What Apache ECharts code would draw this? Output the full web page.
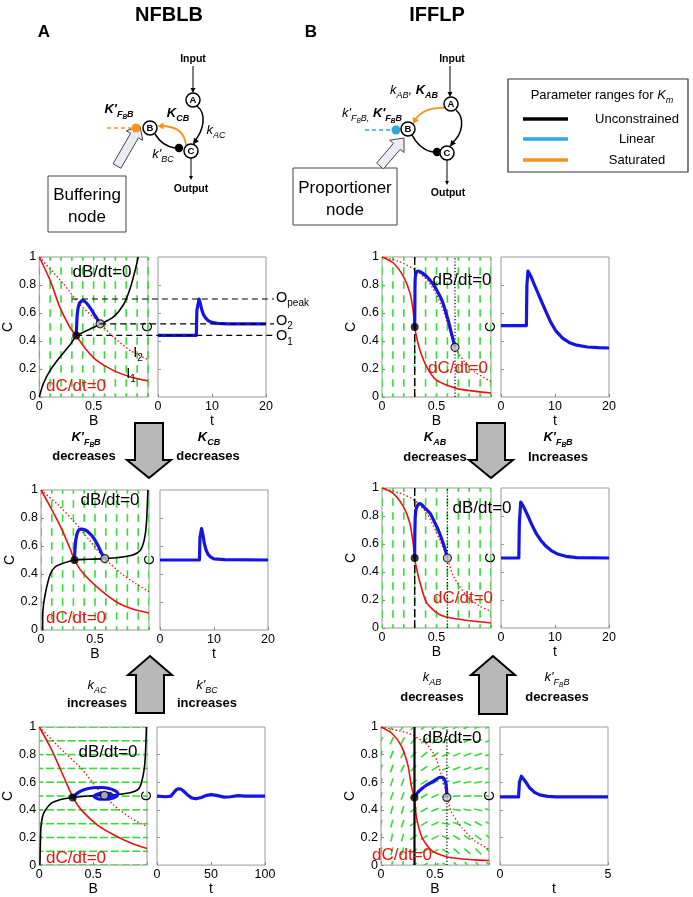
<!DOCTYPE html>
<html><head><meta charset="utf-8">
<script src="https://cdn.jsdelivr.net/npm/echarts@6/dist/echarts.min.js"></script>
<style>html,body{margin:0;padding:0;background:#fff;}#c{width:693px;height:897px;}</style>
</head><body><div id="c"></div>
<script>
const FONT = '"Liberation Sans", Arial, Helvetica, sans-serif';

// ---------- vector-field sampling grid ----------
const fieldB = [0,0.1,0.2,0.3,0.4,0.5,0.6,0.7,0.8,0.9,1];
const fieldC = [0,0.1,0.2,0.3,0.4,0.5,0.6,0.7,0.8,0.9,1];
const verticalAngle = 90;
const horizontalAngle = 0;
// B3 field direction (degrees), rows C = 1 ... 0, cols B = 0 ... 1
const b3FieldAngles = [
  [70,65,60,50,40,35,30,28,25,22,20],
  [70,65,60,48,40,35,30,25,22,20,18],
  [72,68,62,45,38,32,28,22,20,18,15],
  [72,70,65,45,35,30,25,20,18,15,12],
  [75,72,68,40,32,28,22,15,12,10,8],
  [75,72,70,40,30,25,15,5,3,0,0],
  [78,75,72,35,28,22,5,-8,-10,-12,-15],
  [78,75,72,35,30,25,-10,-20,-25,-28,-30],
  [80,78,75,35,30,28,-20,-30,-35,-38,-40],
  [80,78,75,35,30,28,-30,-40,-42,-45,-45],
  [82,80,78,35,30,25,-35,-45,-48,-50,-50]
];

// ---------- tick labels ----------
const phaseBTicks = [0,0.5];
const phaseCTicks = [0,0.2,0.4,0.6,0.8,1];
const timeTicks20 = [0,10,20];
const timeTicks100 = [0,50,100];
const timeTicks5 = [0,5];

// ---------- A1 : NFBLB, top ----------
const a1NullC1 = [[0,1],[0.1,0.833],[0.19,0.64],[0.28,0.5],[0.345,0.43],[0.44,0.33],[0.53,0.26],[0.68,0.19],[0.84,0.143],[1,0.115]];
const a1NullC2 = [[0,1],[0.22,0.81],[0.375,0.66],[0.56,0.523],[0.68,0.43],[0.84,0.33],[1,0.267]];
const a1NullB = [[0,0],[0.037,0.095],[0.1,0.19],[0.19,0.286],[0.28,0.37],[0.34,0.433],[0.44,0.476],[0.56,0.52],[0.68,0.57],[0.78,0.667],[0.84,0.786],[0.89,0.93],[0.91,1]];
const a1Traj = [[0.34,0.44],[0.343,0.5],[0.35,0.595],[0.36,0.645],[0.375,0.675],[0.40,0.69],[0.43,0.675],[0.47,0.635],[0.51,0.585],[0.54,0.548],[0.56,0.523]];
const a1Stable = [0.34,0.44];
const a1New = [0.56,0.523];
const a1Time = [[0,0.44],[7.1,0.44],[7.2,0.62],[7.6,0.70],[7.85,0.665],[8.1,0.625],[8.4,0.59],[8.8,0.565],[9.3,0.545],[10,0.533],[11,0.526],[13,0.523],[20,0.523]];
const a1OLevels = [0.70,0.523,0.44];      // O_peak, O_2, O_1
const a1OStartB = [0.30,0.56,0.34];

// ---------- A2 ----------
const a2NullC1 = [[0,1],[0.086,0.88],[0.18,0.74],[0.27,0.58],[0.31,0.5],[0.39,0.405],[0.55,0.286],[0.70,0.20],[0.855,0.148],[1,0.122]];
const a2NullC2 = [[0,1],[0.15,0.9],[0.3,0.78],[0.45,0.64],[0.59,0.51],[0.75,0.40],[0.88,0.33],[1,0.274]];
const a2NullB = [[0.015,0],[0.018,0.14],[0.04,0.26],[0.086,0.4],[0.13,0.45],[0.18,0.47],[0.31,0.5],[0.45,0.505],[0.59,0.51],[0.72,0.518],[0.85,0.535],[0.92,0.57],[0.955,0.64],[0.975,0.75],[0.99,1]];
const a2Traj = [[0.31,0.5],[0.315,0.58],[0.326,0.66],[0.345,0.71],[0.37,0.72],[0.41,0.714],[0.45,0.69],[0.49,0.655],[0.53,0.6],[0.56,0.55],[0.59,0.51]];
const a2Stable = [0.31,0.5];
const a2New = [0.59,0.51];
const a2Time = [[0,0.5],[7.3,0.5],[7.4,0.66],[7.7,0.725],[7.95,0.68],[8.2,0.62],[8.5,0.575],[8.9,0.54],[9.4,0.52],[10,0.508],[12,0.502],[20,0.5]];

// ---------- A3 ----------
const a3NullC1 = [[0,1],[0.113,0.838],[0.235,0.625],[0.31,0.494],[0.39,0.40],[0.54,0.29],[0.69,0.22],[0.85,0.16],[1,0.12]];
const a3NullC2 = [[0,1],[0.235,0.815],[0.39,0.70],[0.54,0.553],[0.605,0.505],[0.69,0.435],[0.85,0.34],[1,0.28]];
const a3NullB = [[0.006,0],[0.01,0.15],[0.015,0.27],[0.03,0.35],[0.05,0.39],[0.11,0.447],[0.2,0.475],[0.31,0.49],[0.45,0.5],[0.605,0.505],[0.75,0.513],[0.85,0.525],[0.92,0.55],[0.95,0.6],[0.975,0.7],[0.985,0.8],[0.995,1]];
const a3Traj = [[0.31,0.49],[0.36,0.525],[0.42,0.548],[0.5,0.56],[0.58,0.562],[0.65,0.555],[0.70,0.54],[0.73,0.52],[0.72,0.50],[0.68,0.485],[0.62,0.478],[0.56,0.478],[0.52,0.488],[0.51,0.5],[0.53,0.512],[0.58,0.52],[0.64,0.52],[0.67,0.512],[0.67,0.5],[0.64,0.493],[0.61,0.495],[0.605,0.505]];
const a3Stable = [0.31,0.49];
const a3New = [0.605,0.505];
const a3Time = [[0,0.5],[8,0.495],[13,0.5],[16,0.53],[18,0.547],[20,0.553],[22,0.55],[24,0.54],[28,0.51],[32,0.487],[36,0.48],[41,0.49],[46,0.505],[50,0.51],[55,0.505],[62,0.492],[68,0.495],[75,0.503],[82,0.5],[100,0.5]];

// ---------- B1 : IFFLP, top ----------
const b1NullC1 = [[0,1],[0.104,0.957],[0.196,0.861],[0.258,0.74],[0.285,0.62],[0.30,0.5],[0.32,0.42],[0.35,0.33],[0.41,0.215],[0.5,0.12],[0.69,0.06],[1,0.029]];
const b1NullC2 = [[0,1],[0.15,0.97],[0.3,0.91],[0.42,0.83],[0.5,0.73],[0.57,0.6],[0.62,0.48],[0.67,0.355],[0.75,0.26],[0.85,0.18],[1,0.11]];
const b1NullB = [0.30,0.67];   // B nullcline for input 1, input 2
const b1Traj = [[0.30,0.5],[0.302,0.7],[0.305,0.85],[0.315,0.89],[0.334,0.9],[0.37,0.885],[0.41,0.86],[0.46,0.815],[0.5,0.766],[0.55,0.69],[0.58,0.62],[0.61,0.54],[0.63,0.478],[0.67,0.355]];
const b1Stable = [0.30,0.5];
const b1New = [0.67,0.355];
const b1Time = [[0,0.51],[4.7,0.51],[4.8,0.8],[5.0,0.9],[5.5,0.865],[6.2,0.8],[7.2,0.71],[8.2,0.62],[9.2,0.535],[10.2,0.47],[11.4,0.42],[12.6,0.39],[14,0.37],[16,0.357],[18,0.352],[20,0.35]];

// ---------- B2 ----------
const b2NullC1 = [[0,1],[0.1,0.964],[0.194,0.87],[0.255,0.75],[0.29,0.58],[0.30,0.5],[0.31,0.45],[0.35,0.32],[0.41,0.18],[0.53,0.095],[0.69,0.064],[1,0.036]];
const b2NullC2 = [[0,1],[0.16,0.964],[0.29,0.917],[0.41,0.82],[0.53,0.63],[0.6,0.5],[0.655,0.37],[0.78,0.226],[0.9,0.155],[1,0.12]];
const b2NullB = [0.30,0.60];
const b2Traj = [[0.30,0.5],[0.302,0.7],[0.31,0.84],[0.33,0.88],[0.348,0.888],[0.39,0.86],[0.44,0.82],[0.48,0.76],[0.517,0.70],[0.55,0.63],[0.58,0.56],[0.6,0.5]];
const b2Stable = [0.30,0.5];
const b2New = [0.60,0.5];
const b2Time = [[0,0.5],[3.3,0.5],[3.4,0.75],[3.65,0.9],[4.2,0.865],[5.0,0.8],[5.8,0.73],[6.6,0.67],[7.4,0.625],[8.3,0.585],[9.3,0.553],[10.5,0.528],[12,0.512],[14,0.503],[20,0.5]];

// ---------- B3 ----------
const b3NullC1 = [[0,1],[0.1,0.955],[0.19,0.86],[0.25,0.72],[0.28,0.577],[0.31,0.48],[0.33,0.34],[0.38,0.2],[0.47,0.104],[0.62,0.057],[0.87,0.038],[1,0.033]];
const b3NullC2 = [[0,1],[0.25,0.955],[0.41,0.884],[0.5,0.79],[0.56,0.648],[0.61,0.506],[0.65,0.388],[0.75,0.27],[0.87,0.175],[1,0.116]];
const b3NullB = [0.31,0.61];
const b3Traj = [[0.31,0.49],[0.34,0.525],[0.377,0.553],[0.42,0.578],[0.47,0.6],[0.51,0.62],[0.546,0.636],[0.565,0.635],[0.585,0.625],[0.6,0.595],[0.607,0.55],[0.61,0.49]];
const b3Stable = [0.31,0.49];
const b3New = [0.61,0.49];
const b3Time = [[0,0.494],[0.86,0.494],[0.9,0.6],[0.99,0.644],[1.08,0.635],[1.2,0.6],[1.37,0.56],[1.6,0.527],[1.84,0.508],[2.2,0.498],[2.6,0.494],[5,0.494]];

// ---------- build fields ----------
function uniformField(ang){ const d=[]; fieldC.forEach(c=>fieldB.forEach(b=>d.push([b,c,ang]))); return d; }
function tableField(tab){ const d=[]; tab.forEach((row,i)=>{ const c=fieldC[fieldC.length-1-i]; row.forEach((a,j)=>d.push([fieldB[j],c,a])); }); return d; }

const panels = [
  {phase:[39,257,109,140], time:[158,257,108,140], c1:a1NullC1, c2:a1NullC2, nb:a1NullB, traj:a1Traj, st:a1Stable, nw:a1New, tm:a1Time, tmax:20, tt:timeTicks20, field:uniformField(verticalAngle), flen:7.5},
  {phase:[382,257,109,140], time:[501,257,108,140], c1:b1NullC1, c2:b1NullC2, vb:b1NullB, vbSolid:false, traj:b1Traj, st:b1Stable, nw:b1New, tm:b1Time, tmax:20, tt:timeTicks20, field:uniformField(verticalAngle), flen:7.5},
  {phase:[41,490,108,140], time:[160,490,108,140], c1:a2NullC1, c2:a2NullC2, nb:a2NullB, traj:a2Traj, st:a2Stable, nw:a2New, tm:a2Time, tmax:20, tt:timeTicks20, field:uniformField(verticalAngle), flen:7.5},
  {phase:[382,488,109,140], time:[501,488,108,140], c1:b2NullC1, c2:b2NullC2, vb:b2NullB, vbSolid:false, traj:b2Traj, st:b2Stable, nw:b2New, tm:b2Time, tmax:20, tt:timeTicks20, field:uniformField(verticalAngle), flen:7.5},
  {phase:[38,727,109,141], time:[157,727,108,141], c1:a3NullC1, c2:a3NullC2, nb:a3NullB, traj:a3Traj, st:a3Stable, nw:a3New, tm:a3Time, tmax:100, tt:timeTicks100, field:uniformField(horizontalAngle), flen:8},
  {phase:[381,727,108,141], time:[500,727,108,141], c1:b3NullC1, c2:b3NullC2, vb:b3NullB, vbSolid:true, traj:b3Traj, st:b3Stable, nw:b3New, tm:b3Time, tmax:5, tt:timeTicks5, field:tableField(b3FieldAngles), flen:8}
];

const BLUE = '#1414e6', RED = '#ee1111', GREEN = '#33dd33';
const txtStyle = {fontSize:12.5, color:'#000', fontFamily:FONT};

function fieldRender(len){
  return function(params, api){
    const p = api.coord([api.value(0), api.value(1)]);
    const a = api.value(2)*Math.PI/180;
    const dx = Math.cos(a)*len/2, dy = -Math.sin(a)*len/2;
    return {type:'line', shape:{x1:p[0]-dx,y1:p[1]-dy,x2:p[0]+dx,y2:p[1]+dy}, style:{stroke:GREEN, lineWidth:1.6}};
  };
}
function lineS(idx, data, ls, z, smooth){
  return {type:'line', xAxisIndex:idx, yAxisIndex:idx, data, showSymbol:false, symbol:'none', smooth:smooth===undefined?0.3:smooth,
    lineStyle:ls, z, silent:true, clip:true};
}

const grids=[], xAxes=[], yAxes=[], series=[];
panels.forEach((p,k)=>{
  const gp = 2*k, gt = 2*k+1;
  [p.phase, p.time].forEach(r=>grids.push({left:r[0], top:r[1], width:r[2], height:r[3], show:true, borderColor:'#999', borderWidth:1, backgroundColor:'rgba(0,0,0,0)'}));
  xAxes.push({gridIndex:gp, type:'value', min:0, max:1, name:'B', nameLocation:'middle', nameGap:14, nameTextStyle:{fontSize:14,color:'#000',fontFamily:FONT},
    axisLine:{show:false}, splitLine:{show:false}, axisTick:{show:true, inside:true, length:3, lineStyle:{color:'#888'}, customValues:[0,0.5,1]},
    axisLabel:Object.assign({customValues:phaseBTicks, margin:3}, txtStyle)});
  yAxes.push({gridIndex:gp, type:'value', min:0, max:1, name:'C', nameLocation:'middle', nameGap:21, nameRotate:90, nameTextStyle:{fontSize:14,color:'#000',fontFamily:FONT},
    axisLine:{show:false}, splitLine:{show:false}, axisTick:{show:true, inside:true, length:3, lineStyle:{color:'#888'}, customValues:phaseCTicks},
    axisLabel:Object.assign({customValues:phaseCTicks, margin:3}, txtStyle)});
  xAxes.push({gridIndex:gt, type:'value', min:0, max:p.tmax, name:'t', nameLocation:'middle', nameGap:14, nameTextStyle:{fontSize:14,color:'#000',fontFamily:FONT},
    axisLine:{show:false}, splitLine:{show:false}, axisTick:{show:true, inside:true, length:3, lineStyle:{color:'#888'}, customValues:p.tt},
    axisLabel:Object.assign({customValues:p.tt, margin:3}, txtStyle)});
  yAxes.push({gridIndex:gt, type:'value', min:0, max:1, name:'C', nameLocation:'middle', nameGap:3, nameRotate:90, nameTextStyle:{fontSize:14,color:'#000',fontFamily:FONT},
    axisLine:{show:false}, splitLine:{show:false}, axisTick:{show:true, inside:true, length:3, lineStyle:{color:'#999'}, customValues:[0.2,0.4,0.6,0.8]},
    axisLabel:{show:false}});

  series.push({type:'custom', xAxisIndex:gp, yAxisIndex:gp, data:p.field, clip:true, silent:true, z:1, renderItem:fieldRender(p.flen)});
  series.push(lineS(gp, p.c2, {color:RED, width:1.3, type:[1.5,2.2]}, 2, 0.25));
  series.push(lineS(gp, p.c1, {color:RED, width:1.6}, 2, 0.25));
  if (p.nb) {
    series.push(lineS(gp, p.nb, {color:'#000', width:1.6}, 3, 0.25));
  } else {
    series.push(lineS(gp, [[p.vb[0],0],[p.vb[0],1]], p.vbSolid?{color:'#000',width:2.2}:{color:'#000',width:1.4,type:[8,3]}, 3, false));
    series.push(lineS(gp, [[p.vb[1],0],[p.vb[1],1]], {color:'#000',width:1.2,type:[1.2,2]}, 3, false));
  }
  series.push(lineS(gp, p.traj, {color:BLUE, width:3.2}, 4, 0.3));
  series.push({type:'scatter', xAxisIndex:gp, yAxisIndex:gp, data:[p.st], symbolSize:8, itemStyle:{color:'#000'}, z:6, silent:true});
  series.push({type:'scatter', xAxisIndex:gp, yAxisIndex:gp, data:[p.nw], symbolSize:8, itemStyle:{color:'#c4c4c4', borderColor:'#000', borderWidth:1.2}, z:6, silent:true});
  series.push(lineS(gt, p.tm, {color:BLUE, width:3.2, join:'round'}, 4, false));
});

const chart = echarts.init(document.getElementById('c'), null, {renderer:'canvas'});
chart.setOption({animation:false, textStyle:{fontFamily:FONT}, grid:grids, xAxis:xAxes, yAxis:yAxes, series});

// ---------- annotations ----------
function rs(size,bold,italic,lh,padTop){ return {fontSize:size, fontWeight:bold?'bold':'normal', fontStyle:italic?'italic':'normal', fontFamily:FONT, lineHeight:lh, padding:[padTop||0,0,0,0], verticalAlign:'top', fill:'#000'}; }
const RICH = {
  m:rs(13,true,true,16,0), s:rs(9,true,true,10,7), ss:rs(6.5,true,true,7,11),
  mi:rs(13,false,true,16,0), si:rs(9,false,true,10,7), ssi:rs(6.5,false,true,7,11),
  o:rs(14.5,false,false,17,0), os:rs(10,false,false,11,8),
  t:rs(13,false,false,16,0), ti:rs(13,false,true,16,0), tsi:rs(9,false,true,10,7)
};
const G = [];
function T(x,y,text,o){ G.push({type:'text', x, y, z:100, silent:true, style:Object.assign({text, rich:RICH, fontFamily:FONT, fontSize:13, fill:'#000', align:'center', verticalAlign:'middle'}, o||{})}); }
function L(x1,y1,x2,y2,stroke,w,dash){ G.push({type:'line', z:90, silent:true, shape:{x1,y1,x2,y2}, style:{stroke, lineWidth:w, lineDash:dash||null}}); }
function P(points, fill, stroke, w){ G.push({type:'polygon', z:91, silent:true, shape:{points}, style:{fill, stroke:stroke||null, lineWidth:w||0}}); }
function Ci(cx,cy,r,fill,stroke,w){ G.push({type:'circle', z:92, silent:true, shape:{cx,cy,r}, style:{fill, stroke:stroke||null, lineWidth:w||0}}); }
function Bz(sh, stroke, w){ G.push({type:'bezierCurve', z:90, silent:true, shape:sh, style:{stroke, lineWidth:w, fill:'none'}}); }
function head(x,y,ang,len,w,col){ const bx=x-Math.cos(ang)*len, by=y-Math.sin(ang)*len, px=-Math.sin(ang)*w/2, py=Math.cos(ang)*w/2; P([[x,y],[bx+px,by+py],[bx-px,by-py]], col); }
function block(x1,y1,x2,y2,sw,hw,hl,fill,stroke,lw){
  const ang=Math.atan2(y2-y1,x2-x1), Ln=Math.hypot(x2-x1,y2-y1), ux=Math.cos(ang), uy=Math.sin(ang), px=-uy, py=ux;
  const pts=[[0,-sw/2],[Ln-hl,-sw/2],[Ln-hl,-hw/2],[Ln,0],[Ln-hl,hw/2],[Ln-hl,sw/2],[0,sw/2]];
  P(pts.map(([a,b])=>[x1+ux*a+px*b, y1+uy*a+py*b]), fill, stroke, lw);
}
function node(cx,cy,label){ Ci(cx,cy,7,'#fff','#000',1.5); T(cx,cy+0.5,label,{fontSize:9.5,fontWeight:'bold'}); }
const ORANGE='#f7941d', CYAN='#29abe2';

// titles
T(169,15,'NFBLB',{fontSize:20,fontWeight:'bold'});
T(437,15,'IFFLP',{fontSize:20,fontWeight:'bold'});
T(44,32,'A',{fontSize:17,fontWeight:'bold'});
T(311,32,'B',{fontSize:17,fontWeight:'bold'});

// ---- diagram A ----
T(193,59,'Input',{fontSize:10.5,fontWeight:'bold'});
L(193,66,193,89,'#000',1); head(193,93,Math.PI/2,5,5,'#000');
Bz({x1:197,y1:106,cpx1:207,cpy1:114,cpx2:204,cpy2:130,x2:194,y2:142},'#000',1.5); head(193,144.5,Math.atan2(14,-10),6,6,'#000');
Bz({x1:186,y1:145,cpx1:184,cpy1:126,x2:161,y2:126},ORANGE,1.8); head(157.5,126,Math.PI,6,7,ORANGE);
Bz({x1:155,y1:134,cpx1:162,cpy1:146,x2:175,y2:148},'#000',1.5);
Ci(179,148,4.2,'#000');
L(107,128,131,128,ORANGE,1.5,[4,3]); Ci(136,128,4.5,ORANGE);
node(193,100,'A'); node(150,128,'B'); node(191,151,'C');
L(191,158,191,176,'#000',1); head(191,180,Math.PI/2,4,4,'#000');
T(191,189,'Output',{fontSize:10.5,fontWeight:'bold'});
T(119,111,"{m|K'}{s|F}{ss|B}{s|B}");
T(178,115,'{m|K}{s|CB}');
T(216,132,'{mi|k}{si|AC}');
T(163,156,"{mi|k'}{si|BC}");
block(117,166,140,126,9,19,11,'#ebebf6','#444',1);
G.push({type:'rect', z:90, silent:true, shape:{x:48,y:176,width:78,height:56}, style:{fill:'#fff',stroke:'#444',lineWidth:1}});
T(87,195,'Buffering',{fontSize:17}); T(87,217,'node',{fontSize:17});

// ---- diagram B ----
T(452,59,'Input',{fontSize:10.5,fontWeight:'bold'});
L(450,66,450,93,'#000',1); head(450,97,Math.PI/2,5,5,'#000');
Bz({x1:444,y1:108,cpx1:424,cpy1:107,x2:415,y2:120},ORANGE,1.8); head(413,124,Math.atan2(15,-8),6,7,ORANGE);
Bz({x1:456,y1:110,cpx1:465,cpy1:118,cpx2:463,cpy2:134,x2:452,y2:143},'#000',1.5); head(450,146.5,Math.atan2(12,-9),6,6,'#000');
Bz({x1:412,y1:135,cpx1:420,cpy1:150,x2:433,y2:152},'#000',1.5);
Ci(437,152,4.2,'#000');
L(365,130,391,130,CYAN,1.5,[4,3]); Ci(396,130,4.5,CYAN);
node(451,104,'A'); node(408,129,'B'); node(447,153,'C');
L(447,160,447,181,'#000',1); head(447,185,Math.PI/2,4,4,'#000');
T(448,193,'Output',{fontSize:10.5,fontWeight:'bold'});
T(414,92,'{mi|k}{si|AB}{mi|,} {m|K}{s|AB}');
T(372,115,"{mi|k'}{si|F}{ssi|B}{si|B,} {m|K'}{s|F}{ss|B}{s|B}");
block(380,166,404,138,9,19,11,'#ebebf6','#444',1);
G.push({type:'rect', z:90, silent:true, shape:{x:293,y:168,width:104,height:57}, style:{fill:'#fff',stroke:'#444',lineWidth:1}});
T(345,188,'Proportioner',{fontSize:17}); T(345,210,'node',{fontSize:17});

// ---- legend box ----
G.push({type:'rect', z:90, silent:true, shape:{x:508,y:79,width:180,height:93}, style:{fill:'#fff',stroke:'#333',lineWidth:1.2}});
T(602,97,'{t|Parameter ranges for }{ti|K}{tsi|m}');
L(523,119,568,119,'#000',3.5); T(637,119,'Unconstrained',{fontSize:13});
L(523,139,568,139,CYAN,3.5); T(637,139,'Linear',{fontSize:13});
L(523,160,568,160,ORANGE,3.5); T(637,160,'Saturated',{fontSize:13});

// ---- big gray arrows ----
function downArrow(cx,yt,yb,ytip){ P([[cx-14,yt],[cx+14,yt],[cx+14,yb],[cx+22,yb],[cx,ytip],[cx-22,yb],[cx-14,yb]],'#b8b8b8','#000',2); }
function upArrow(cx,ybot,yb,ytip){ P([[cx-14,ybot],[cx+14,ybot],[cx+14,yb],[cx+22,yb],[cx,ytip],[cx-22,yb],[cx-14,yb]],'#b8b8b8','#000',2); }
downArrow(149,423,460,478); downArrow(491,423,460,478);
upArrow(150,713,675,656); upArrow(493,714,675,656);
const bold13 = {fontSize:13,fontWeight:'bold'};
T(86,439,"{m|K'}{s|F}{ss|B}{s|B}"); T(84,456,'decreases',bold13);
T(209,439,'{m|K}{s|CB}'); T(208,456,'decreases',bold13);
T(435,439,'{m|K}{s|AB}'); T(435,457,'decreases',bold13);
T(558,439,"{m|K'}{s|F}{ss|B}{s|B}"); T(558,457,'Increases',bold13);
T(97,687,'{mi|k}{si|AC}'); T(97,703,'increases',bold13);
T(207,687,"{mi|k'}{si|BC}"); T(207,703,'increases',bold13);
T(432,679,'{mi|k}{si|AB}'); T(432,697,'decreases',bold13);
T(557,679,"{mi|k'}{si|F}{ssi|B}{si|B}"); T(557,697,'decreases',bold13);

// ---- nullcline labels ----
const dB = {fontSize:17}, dC = {fontSize:17, fill:RED};
T(102,272,'dB/dt=0',dB); T(76,386,'dC/dt=0',dC);
T(110,500,'dB/dt=0',dB); T(76,618,'dC/dt=0',dC);
T(108,752,'dB/dt=0',dB); T(76,858,'dC/dt=0',dC);
T(462,280,'dB/dt=0',dB); T(458,368,'dC/dt=0',dC);
T(482,508,'dB/dt=0',dB); T(463,598,'dC/dt=0',dC);
T(452,738,'dB/dt=0',dB); T(402,855,'dC/dt=0',dC);
T(138,354,'{o|I}{os|2}'); T(131,375,'{o|I}{os|1}');

// ---- O level lines (A1) ----
const tEnd = chart.convertToPixel({xAxisIndex:1,yAxisIndex:1},[20,0])[0] + 8;
const oNames = ['{o|O}{os|peak}','{o|O}{os|2}','{o|O}{os|1}'];
a1OLevels.forEach((c,i)=>{
  const p = chart.convertToPixel({xAxisIndex:0,yAxisIndex:0},[a1OStartB[i], c]);
  L(p[0], p[1], tEnd, p[1], '#000', 1.2, [6,4]);
  T(276, p[1] + (i===0?0:(i===1?-2:2)), oNames[i], {align:'left'});
});

chart.setOption({graphic: G});
</script>
</body></html>
